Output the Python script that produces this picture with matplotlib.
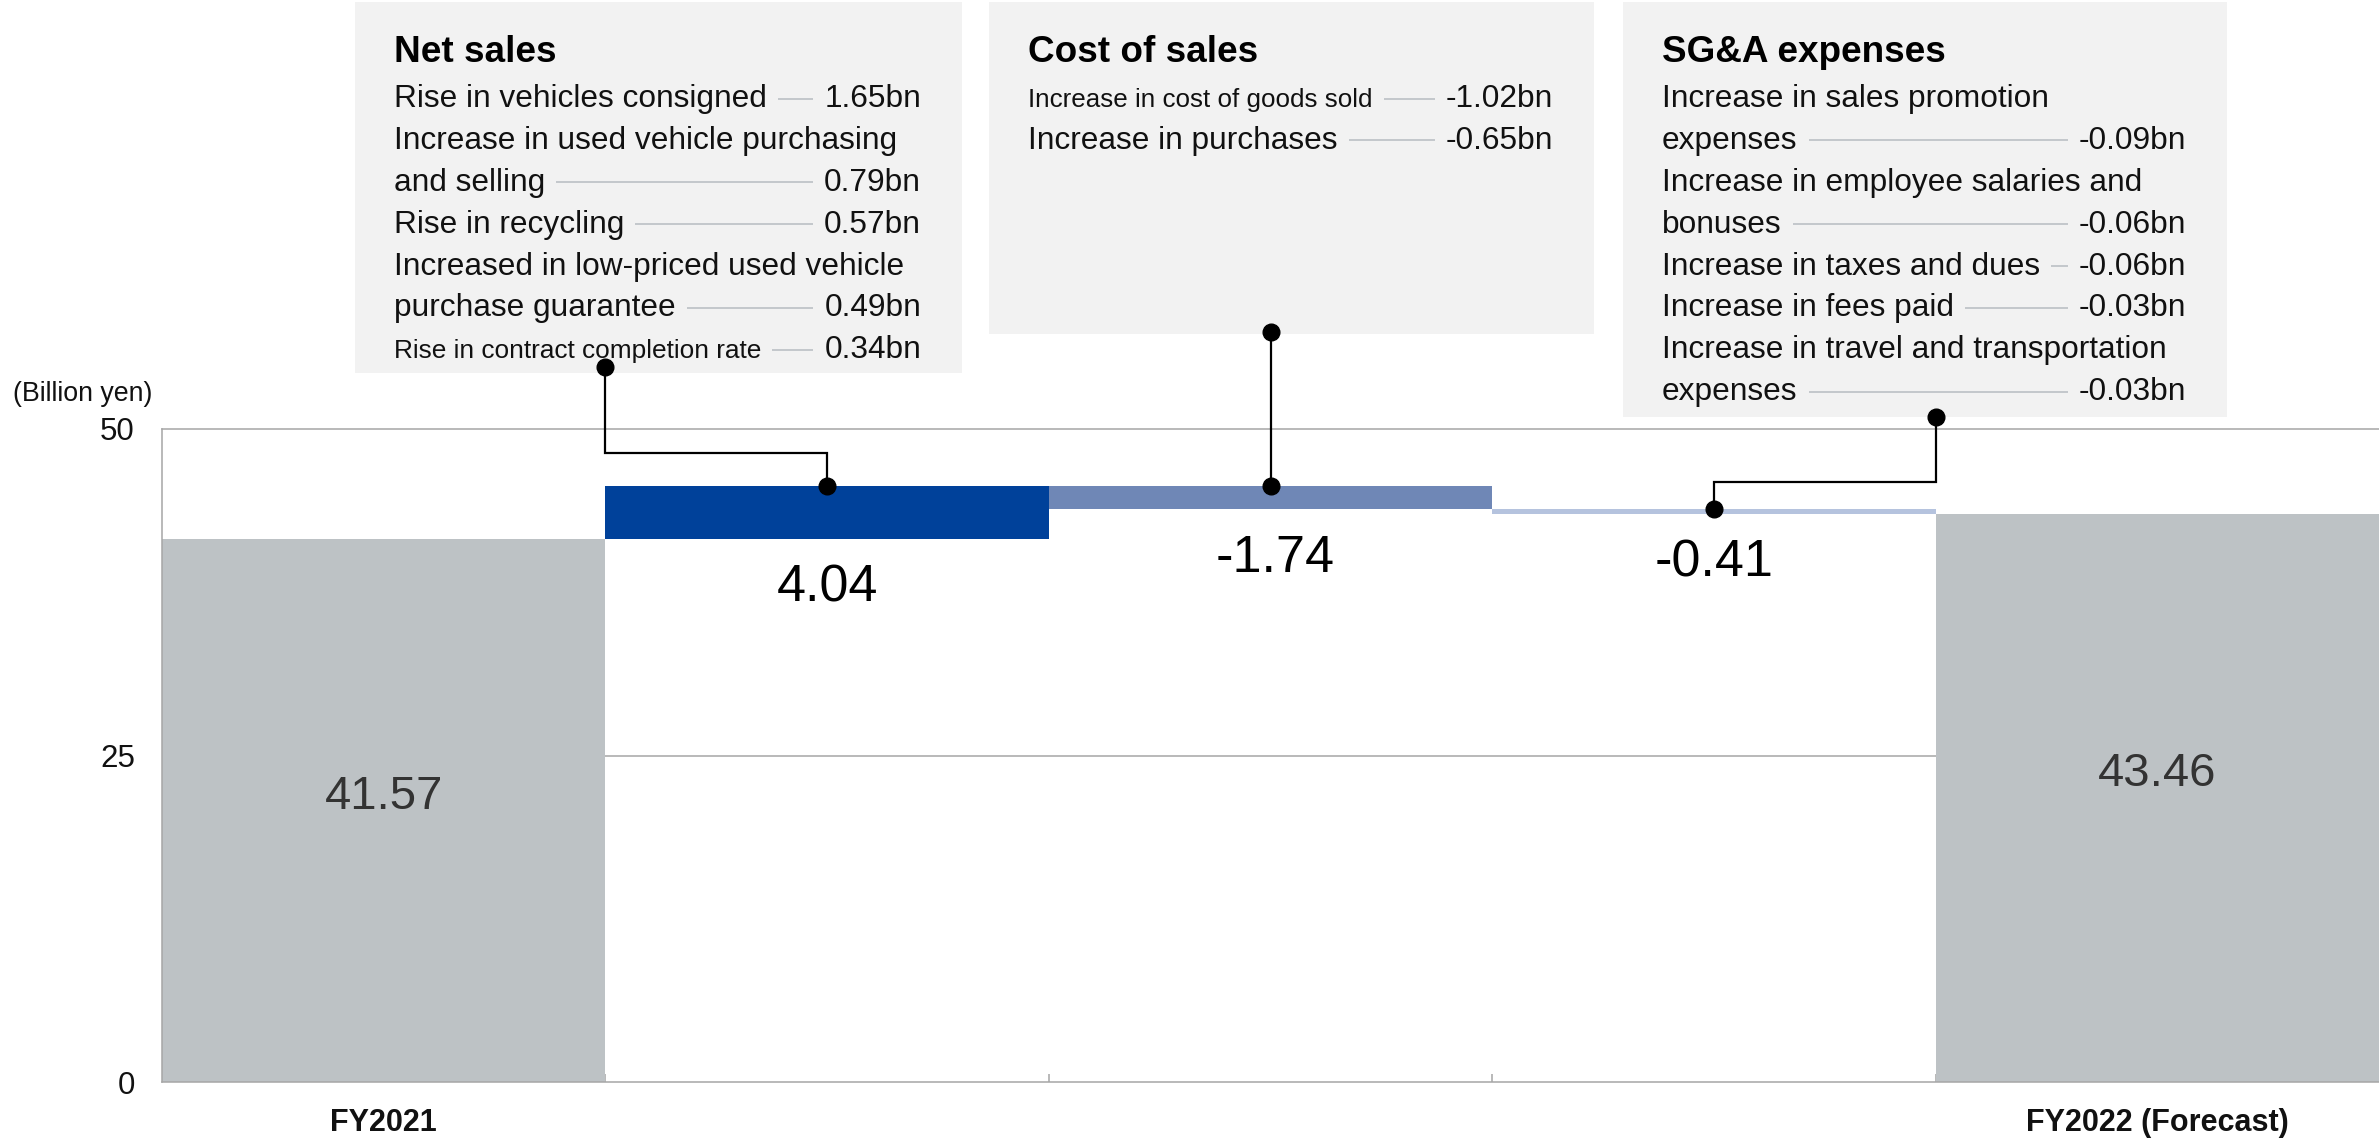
import matplotlib
matplotlib.use('Agg')
import matplotlib.pyplot as plt
from matplotlib import font_manager
from matplotlib.patches import Rectangle

W, H, DPI = 2379, 1142, 100

# ---------------- data ----------------
categories = ['FY2021', 'Net sales', 'Cost of sales', 'SG&A expenses', 'FY2022 (Forecast)']
start_value = 41.57
change_values = [4.04, -1.74, -0.41]
end_value = 43.46
xtick_labels = ['FY2021', '', '', '', 'FY2022 (Forecast)']
yticks = [0, 25, 50]
y_unit = '(Billion yen)'

box_titles = ['Net sales', 'Cost of sales', 'SG&A expenses']

net_sales_labels = [['Rise in vehicles consigned'],
                    ['Increase in used vehicle purchasing', 'and selling'],
                    ['Rise in recycling'],
                    ['Increased in low-priced used vehicle', 'purchase guarantee'],
                    ['Rise in contract completion rate']]
net_sales_values = ['1.65bn', '0.79bn', '0.57bn', '0.49bn', '0.34bn']
net_sales_condensed = [False, False, False, False, True]

cost_labels = [['Increase in cost of goods sold'],
               ['Increase in purchases']]
cost_values = ['-1.02bn', '-0.65bn']
cost_condensed = [True, False]

sga_labels = [['Increase in sales promotion', 'expenses'],
              ['Increase in employee salaries and', 'bonuses'],
              ['Increase in taxes and dues'],
              ['Increase in fees paid'],
              ['Increase in travel and transportation', 'expenses']]
sga_values = ['-0.09bn', '-0.06bn', '-0.06bn', '-0.03bn', '-0.03bn']
sga_condensed = [False, False, False, False, False]

# ---------------- style ----------------
FONT = ['Liberation Sans', 'DejaVu Sans']
plt.rcParams['font.family'] = FONT
names = {f.name for f in font_manager.fontManager.ttflist}
NARROW = ['Liberation Sans Narrow', 'Liberation Sans', 'DejaVu Sans'] if 'Liberation Sans Narrow' in names else None

GRAY_BAR = '#BDC2C5'
CHANGE_COLORS = ['#00419A', '#6F87B6', '#B5C3DE']
GRID = '#A6A6A6'
BOX_BG = '#F2F2F2'
LEADER = '#C3C7CB'

fig = plt.figure(figsize=(W / DPI, H / DPI), dpi=DPI)
fig.patch.set_facecolor('white')

ax_left, ax_right, ax_top, ax_bottom = 162, W, 429, 1082
ax = fig.add_axes([ax_left / W, (H - ax_bottom) / H, (ax_right - ax_left) / W, (ax_bottom - ax_top) / H])
ax.set_xlim(-0.5, 4.5)
ax.set_ylim(0, 50)

# waterfall bars
x = list(range(len(categories)))
bottoms = [0]
heights = [start_value]
running = start_value
for ch in change_values:
    bottoms.append(min(running, running + ch))
    heights.append(abs(ch))
    running += ch
bottoms.append(0)
heights.append(end_value)
colors = [GRAY_BAR] + CHANGE_COLORS + [GRAY_BAR]
ax.bar(x, heights, bottom=bottoms, width=1.0, color=colors, linewidth=0, zorder=2)

ax.axhline(25, color=GRID, lw=1.1, zorder=1)
for s in ['left', 'bottom', 'top']:
    ax.spines[s].set_color(GRID)
    ax.spines[s].set_linewidth(1.1)
ax.spines['right'].set_visible(False)

ax.set_yticks(yticks)
ax.set_yticklabels([str(v) for v in yticks])
ax.tick_params(axis='y', length=0, pad=19.5, labelsize=22.5, labelcolor='#111111')
ax.set_xticks(x)
ax.set_xticklabels(xtick_labels, fontweight='bold')
ax.tick_params(axis='x', which='major', length=0, pad=19, labelsize=22, labelcolor='#111111')
ax.set_xticks([i + 0.5 for i in range(len(categories) - 1)], minor=True)
ax.tick_params(axis='x', which='minor', direction='in', length=6, width=1.1, color=GRID)

# value labels
ax.text(0, start_value / 2 + 0.15, f'{start_value:.2f}', ha='center', va='baseline', fontsize=34, color='#333333')
ax.text(4, end_value / 2 + 0.9, f'{end_value:.2f}', ha='center', va='baseline', fontsize=34, color='#333333')
label_dx = [0, 3, 0]
for i, ch in enumerate(change_values):
    xi = i + 1
    ax.annotate(f'{ch:.2f}', xy=(xi, bottoms[xi]), xytext=(label_dx[i], -45), textcoords='offset points',
                ha='center', va='baseline', fontsize=37.5, color='black')

fig.text(152 / W, 1 - 394 / H, y_unit, ha='right', va='center', fontsize=19.3, color='#111111')

# ---------------- overlay with boxes ----------------
ov = fig.add_axes([0, 0, 1, 1])
ov.set_xlim(0, W)
ov.set_ylim(H, 0)
ov.axis('off')

renderer = fig.canvas.get_renderer()

boxes = [(355, 962, 373), (989, 1594, 334), (1623, 2227, 417)]
contents = [(net_sales_labels, net_sales_values, net_sales_condensed),
            (cost_labels, cost_values, cost_condensed),
            (sga_labels, sga_values, sga_condensed)]

BODY = 22.8
TITLE = 26.6
LINE0 = 95.6
LSTEP = 41.9
cond_width = {'Rise in contract completion rate': 367, 'Increase in cost of goods sold': 344}

for (bl, br, bb), title, (labels, values, cond) in zip(boxes, box_titles, contents):
    ov.add_patch(Rectangle((bl, 2), br - bl, bb - 2, facecolor=BOX_BG, edgecolor='none', zorder=1))
    tx = bl + 39
    vx = br - 41
    ov.text(tx, 61.7, title, fontsize=TITLE, fontweight='bold', va='baseline', ha='left', color='black', zorder=3)
    k = 0
    for lines, val, c in zip(labels, values, cond):
        for j, line in enumerate(lines):
            base = LINE0 + LSTEP * k + 11.35
            kw = dict(fontsize=BODY, va='baseline', ha='left', color='#111111', zorder=3)
            if c:
                if NARROW:
                    kw['family'] = NARROW
                t = ov.text(tx, base, line, **kw)
                wpx = t.get_window_extent(renderer).width
                target = cond_width.get(line, wpx)
                if not NARROW and wpx > target:
                    t.set_fontsize(BODY * target / wpx)
            else:
                t = ov.text(tx, base, line, **kw)
            if j == len(lines) - 1:
                v = ov.text(vx, base, val, fontsize=BODY, va='baseline', ha='right', color='#111111', zorder=3)
                e1 = t.get_window_extent(renderer)
                e2 = v.get_window_extent(renderer)
                ov.plot([e1.x1 + 11, e2.x0 - 11], [base - 8.4, base - 8.4], color=LEADER, lw=1.4,
                        solid_capstyle='butt', zorder=2)
            k += 1

# ---------------- connectors ----------------
def to_px(xd, yd):
    px, py = ax.transData.transform((xd, yd))
    return px, H - py

tops = [bottoms[i + 1] + heights[i + 1] for i in range(3)]
conn_specs = [  # (x of box end in data, elbow y in data, box bottom pixel offset)
    (0.5, 48.2, 6),
    (2.0, None, 2),
    (3.5, 45.94, 0),
]
for i, ((xb, ye, off), (bl, br, bb)) in enumerate(zip(conn_specs, boxes)):
    xi = i + 1
    x_box, _ = to_px(xb, 0)
    y_box = bb - off
    x_bar, y_bar = to_px(xi, tops[i])
    if ye is None:
        pts = [(x_box, y_box), (x_bar, y_bar)]
    else:
        _, y_el = to_px(xi, ye)
        pts = [(x_box, y_box), (x_box, y_el), (x_bar, y_el), (x_bar, y_bar)]
    xs, ys = zip(*pts)
    ov.plot(xs, ys, color='black', lw=1.6, zorder=5, solid_joinstyle='miter')
    ov.plot([xs[0], xs[-1]], [ys[0], ys[-1]], 'o', color='black', markersize=12, zorder=6, linestyle='none')

fig.savefig('out.png', dpi=DPI, facecolor='white')
